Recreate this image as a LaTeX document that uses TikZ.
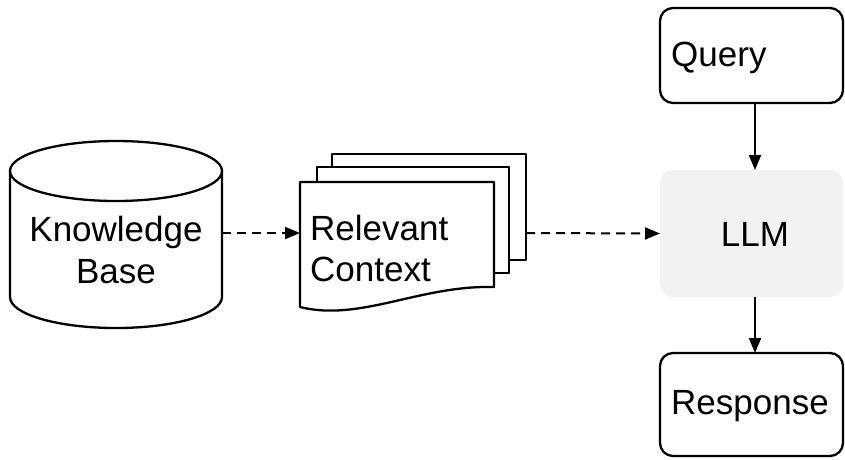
\documentclass[tikz,border=0pt]{standalone}
\usepackage{fontspec}
\setmainfont{Liberation Sans}
\usetikzlibrary{arrows.meta}
\begin{document}
\begin{tikzpicture}[x=1pt,y=-1pt,
  outline/.style={draw=black,line width=2.3pt,line join=round},
  lbl/.style={font=\fontsize{35}{44}\selectfont,inner sep=0pt},
  conn/.style={line width=2pt,-{Triangle[length=15pt,width=12pt]}},
  dconn/.style={conn,dash pattern=on 9pt off 6pt},
  rbox/.style={outline,rounded corners=13pt,fill=white},
  ghost/.style={inner sep=0pt,outer sep=0pt}]
\useasboundingbox (0,0) rectangle (845,459);
% Knowledge base cylinder
\draw[outline,fill=white] (10,171) -- (10,297) arc[start angle=180,end angle=0,x radius=106,y radius=31] -- (222,171);
\draw[outline,fill=white] (116,171) ellipse[x radius=106,y radius=30];
\node[ghost,minimum width=212pt,minimum height=120pt] (kb) at (116,233) {};
\node[lbl,align=center] (kbt) at (116,250) {Knowledge\\[-2pt]Base};
% Stacked documents
\draw[outline,fill=white] (332,154) -- (526,154) -- (526,260) -- (332,260) -- cycle;
\draw[outline,fill=white] (317,167) -- (509,167) -- (509,273) -- (317,273) -- cycle;
\draw[outline,fill=white] (300,182) -- (494,182) -- (494,287) .. controls (420,285) and (360,322) .. (300,307) -- cycle;
\node[ghost,minimum width=226pt,minimum height=100pt] (docs) at (413,233) {};
\node[lbl,align=left,anchor=west] (doct) at (310,248) {Relevant\\[-3pt]Context};
% Right column
\path[fill=black!5,rounded corners=13pt] (660,170) rectangle (843,297);
\node[ghost,minimum width=183pt,minimum height=127pt] (llm) at (751.5,233.5) {};
\node[lbl] (llmt) at (755,234) {LLM};
\draw[rbox] (660,8) rectangle (843,103);
\node[ghost,minimum width=183pt,minimum height=95pt] (query) at (751.5,55.5) {};
\node[lbl,anchor=west] (qt) at (671,58) {Query};
\draw[rbox] (660,353) rectangle (843,456);
\node[ghost,minimum width=183pt,minimum height=103pt] (resp) at (751.5,404.5) {};
\node[lbl,anchor=west] (rt) at (671,406) {Response};
% Connectors
\draw[dconn] (kb.east) -- (docs.west);
\draw[dconn] (docs.east) -- (llm.west);
\draw[conn] (query.south -| llmt) -- (llm.north -| llmt);
\draw[conn] (llm.south -| llmt) -- (resp.north -| llmt);
\end{tikzpicture}
\end{document}
